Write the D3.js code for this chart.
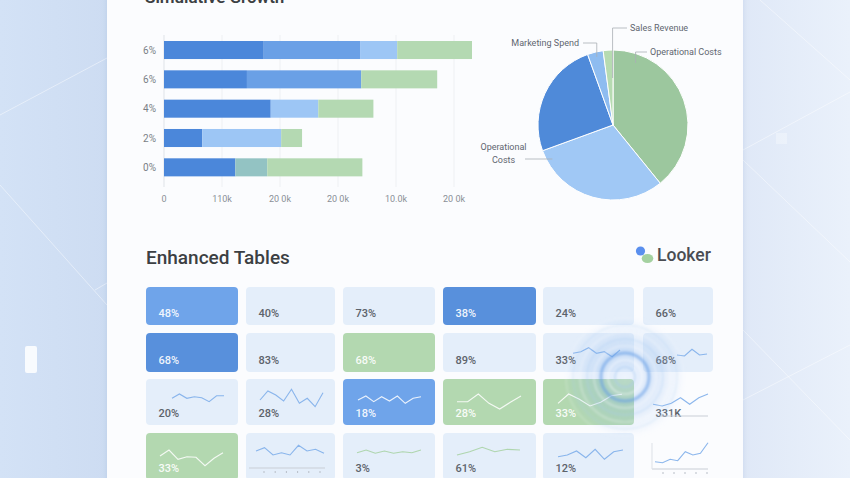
<!DOCTYPE html>
<html><head><meta charset="utf-8">
<script src="https://cdn.jsdelivr.net/npm/d3@7"></script>
<style>html,body{margin:0;padding:0;overflow:hidden;background:#dfe9f7}svg{display:block}text{font-family:Roboto,"Noto Sans",sans-serif}</style>
</head><body><svg id="c" width="850" height="478"></svg>
<script>
// ---------- DATA ----------
const barRows = ["6%","6%","4%","2%","0%"];
const seriesKeys = ["A","B","C","E","D"];
const seriesA = [17.2,14.3,18.4,6.6,12.3];
const seriesB = [16.6,19.7,0,0,0];
const seriesC = [6.4,0,8.2,13.6,0];
const seriesE = [0,0,0,0,5.5];
const seriesD = [12.9,13.1,9.5,3.6,16.4];
const xTickValues = [0,10,20,30,40,50];
const xTickLabels = ["0","110k","20 0k","20 0k","10.0k","20 0k"];

const pieLabels = ["Operational Costs","Operational Costs","","Marketing Spend","Sales Revenue"];
const pieValues = [39.2,30.3,25.1,3.4,2.1];

const tableLabels = [
 ["48%","40%","73%","38%","24%","66%"],
 ["68%","83%","68%","89%","33%","68%"],
 ["20%","28%","18%","28%","33%","331K"],
 ["33%","","3%","61%","12%",""]
];
const tableTones = [
 ["blue","pale","pale","deep","pale","pale"],
 ["deep","pale","green","pale","pale","pale"],
 ["pale","pale","blue","green","green","none"],
 ["green","pale","pale","pale","pale","none"]
];
const sparkValues = [
 [null,null,null,null,null,null],
 [null,null,null,null,[7.7,9.3,13.3,7.7,9.3,4.3,11],[6,5,11.7,6,7]],
 [[14.7,19,14.7,16.3,15.3,11.3,17.3,17.3],[13,22,18,12,23.7,9.7,14.7,6.3,20.3],[13,17,11.3,16.3,12,17,9.7,14.7,16.3],[11.3,11.3,19,9.7,4,10.7,17],[9.7,19,13.7,7,10.7,17.3,18.7],[8.7,7,9.7,15.3,8.7,15.3,19]],
 [[11,17,7.7,10.3,9.7,1.3,8.7,14.3],[16,19.3,12,14.3,12,21.7,16,17.7,13.7],[14.3,17,13.7,16,13.7,15.3,14.3,17],[12,15.3,19.7,15.3,17.7,17],[10.3,12,16,9.3,17.7,7.7,15.3,17],[5.3,4.3,7.7,6.3,15.3,12,13.7,24.3]]
];
const sparkTones = [
 [null,null,null,null,null,null],
 [null,null,null,null,"b","b"],
 ["b","b","w","w","w","b"],
 ["w","b","g","g","b","b"]
];

// ---------- LAYOUT ----------
const W=850,H=478;
const svg=d3.select("#c");
const defs=svg.append("defs");
const bg=defs.append("linearGradient").attr("id","bg").attr("x1",0).attr("x2",1).attr("y1",0).attr("y2",0);
bg.append("stop").attr("offset",0).attr("stop-color","#d3e2f6");
bg.append("stop").attr("offset",0.13).attr("stop-color","#cddcf2");
bg.append("stop").attr("offset",0.87).attr("stop-color","#dfe8f7");
bg.append("stop").attr("offset",1).attr("stop-color","#eaf1fb");
svg.append("rect").attr("width",W).attr("height",H).attr("fill","url(#bg)");
const flt=defs.append("filter").attr("id","sh").attr("x","-10%").attr("y","-10%").attr("width","120%").attr("height","120%");
flt.append("feDropShadow").attr("dx",0).attr("dy",0).attr("stdDeviation",3).attr("flood-color","#7e9cc6").attr("flood-opacity",0.25);

// decorative background lines
const deco=svg.append("g").attr("stroke","#ffffff").attr("stroke-opacity",0.45).attr("stroke-width",1);
[[0,115,107,58],[0,185,107,305],[95,290,107,283],[760,0,850,80],[743,150,850,92],[743,160,850,262],[743,330,850,440],[743,400,850,345]]
 .forEach(l=>deco.append("line").attr("x1",l[0]).attr("y1",l[1]).attr("x2",l[2]).attr("y2",l[3]));
svg.append("rect").attr("x",25).attr("y",346).attr("width",12).attr("height",27).attr("rx",2).attr("fill","#ffffff").attr("opacity",0.85);
svg.append("rect").attr("x",776).attr("y",133).attr("width",11).attr("height",11).attr("fill","#ffffff").attr("opacity",0.3);

// card
svg.append("rect").attr("x",107).attr("y",-20).attr("width",636).attr("height",520).attr("fill","#fbfcfe").attr("filter","url(#sh)");

// ---------- BAR CHART ----------
svg.append("text").attr("x",145).attr("y",3).attr("font-size",17).attr("font-weight",600).attr("fill","#3c4043").text("Simulative Growth");

const x=d3.scaleLinear().domain([0,53.1]).range([164,472]);
const y=d3.scaleBand().domain(barRows.map((d,i)=>i)).range([35.35,182]).paddingInner(0.385).paddingOuter(0.1925);
const gBar=svg.append("g");
gBar.selectAll("line.grid").data(xTickValues).join("line").attr("class","grid")
 .attr("x1",d=>x(d)).attr("x2",d=>x(d)).attr("y1",35).attr("y2",187)
 .attr("stroke",(d,i)=>i===0?"#dfe3e8":"#eef0f3").attr("stroke-width",1);
const barData=barRows.map((r,i)=>({i,A:seriesA[i],B:seriesB[i],C:seriesC[i],E:seriesE[i],D:seriesD[i]}));
const stack=d3.stack().keys(seriesKeys)(barData);
const barColor={A:"#4b87da",B:"#6aa0e6",C:"#9dc6f5",E:"#93c3c3",D:"#b4d9b2"};
gBar.selectAll("g.s").data(stack).join("g").attr("class","s").attr("fill",d=>barColor[d.key])
 .selectAll("rect").data(d=>d.filter(s=>s[1]>s[0])).join("rect")
 .attr("x",d=>x(d[0])).attr("width",d=>x(d[1])-x(d[0]))
 .attr("y",d=>y(d.data.i)).attr("height",y.bandwidth());
gBar.selectAll("text.yl").data(barRows).join("text").attr("class","yl")
 .attr("x",156).attr("y",(d,i)=>y(i)+y.bandwidth()/2+3.5).attr("text-anchor","end")
 .attr("font-size",10).attr("fill","#7a7f86").text(d=>d);
gBar.selectAll("text.xl").data(xTickValues).join("text").attr("class","xl")
 .attr("x",d=>x(d)).attr("y",202).attr("text-anchor","middle")
 .attr("font-size",9).attr("fill","#8a8f96").text((d,i)=>xTickLabels[i]);

// ---------- PIE ----------
const cx=613,cy=125,R=75;
const pieColors=["#9cc79e","#a0c8f5","#4f8ad9","#8ebcf0","#b6dbb1"];
const pie=d3.pie().sort(null).value(d=>d)(pieValues);
const arc=d3.arc().innerRadius(0).outerRadius(R);
const gPie=svg.append("g").attr("transform",`translate(${cx},${cy})`);
gPie.selectAll("path").data(pie).join("path").attr("d",arc).attr("fill",(d,i)=>pieColors[i])
 .attr("stroke","#ffffff").attr("stroke-width",1);
function polar(angDeg,r){const a=angDeg*Math.PI/180;return [r*Math.sin(a),-r*Math.cos(a)];}
const pieLabelLayout=[
 {tx:37,ty:[-70],anchor:"start",elbowY:-73,ang:20,r:66},
 {tx:-109.5,ty:[25,38],anchor:"middle",elbowY:34,ang:240,r:70,lines:["Operational","Costs"],direct:true,x0:-88},
 null,
 {tx:-34,ty:[-79],anchor:"end",elbowY:-82,ang:346.6,r:70},
 {tx:17,ty:[-94],anchor:"start",elbowY:-97,ang:359.5,r:47}
];
pieLabelLayout.forEach((L,i)=>{
 if(!L) return;
 const p=polar(L.ang,L.r);
 let pts;
 if(L.direct){pts=[[L.x0,L.elbowY],[p[0],L.elbowY]];}
 else{const tx0=L.anchor==="end"?L.tx+4:L.tx-3;pts=[[tx0,L.elbowY],[p[0],L.elbowY],[p[0],p[1]]];}
 gPie.append("path").attr("d",d3.line()(pts)).attr("fill","none").attr("stroke","#a9aeb5").attr("stroke-width",0.8);
 const lines=L.lines||[pieLabels[i]];
 lines.forEach((t,k)=>gPie.append("text").attr("x",L.tx).attr("y",L.ty[k]).attr("text-anchor",L.anchor)
  .attr("font-size",9).attr("fill","#5f6670").text(t));
});

// ---------- TABLE ----------
svg.append("text").attr("x",146).attr("y",264).attr("font-size",19).attr("font-weight",500).attr("fill","#3c4043").text("Enhanced Tables");
svg.append("circle").attr("cx",640.5).attr("cy",251).attr("r",4.6).attr("fill","#5a8fee");
svg.append("ellipse").attr("cx",647.5).attr("cy",258.5).attr("rx",5.8).attr("ry",4.6).attr("fill","#9fcf9b").attr("opacity",0.95);
svg.append("text").attr("x",657).attr("y",261).attr("font-size",17.5).attr("font-weight",500).attr("fill","#4a4d52").text("Looker");

const colX=[146,246,343,443,543,643], colW=[92,89,92,93,91,70];
const rowY=[287,333,379,433], rowH=[38,39,46,47];
const sparkBase=[0,28,34,34];
const sparkSpan=[
 [null,null,null,null,null,null],
 [null,null,null,null,[30,77],[34,64]],
 [[26,78],[14,77],[15,78],[14,78],[15,79],[10,65]],
 [[14,77],[10,78],[14,78],[14,77],[15,80],[12,65]]
];
const xCol=d3.scaleOrdinal().domain(d3.range(6)).range(colX);
const yRow=d3.scaleOrdinal().domain(d3.range(4)).range(rowY);
const toneFill={pale:"#e4eefa",blue:"#6fa4ea",deep:"#5890dc",green:"#b3d8b0"};
const toneText={pale:"#5d636b",blue:"#ffffff",deep:"#ffffff",green:"#ffffff",none:"#5d636b"};
const sparkColor={b:"#7eaeea",g:"#a8d3a5",w:"#ffffff"};
const cells=[];
tableLabels.forEach((row,r)=>row.forEach((lab,c)=>cells.push({r,c,lab,tone:tableTones[r][c],spark:sparkValues[r][c],st:sparkTones[r][c],span:sparkSpan[r][c]})));
const gT=svg.append("g");
const cellG=gT.selectAll("g.cell").data(cells).join("g").attr("class","cell")
 .attr("transform",d=>`translate(${xCol(d.c)},${yRow(d.r)})`);
cellG.filter(d=>d.tone!=="none").append("rect").attr("width",d=>colW[d.c]).attr("height",d=>rowH[d.r]).attr("rx",4)
 .attr("fill",d=>toneFill[d.tone]);
cellG.filter(d=>d.spark).append("path").attr("fill","none").attr("stroke-width",1.1)
 .attr("stroke",d=>sparkColor[d.st]).attr("stroke-opacity",d=>d.st==="w"?0.85:0.9)
 .attr("d",d=>{
   const sx=d3.scaleLinear().domain([0,d.spark.length-1]).range(d.span);
   const sy=d3.scaleLinear().domain([0,1]).range([sparkBase[d.r],sparkBase[d.r]-1]);
   return d3.line().x((v,k)=>sx(k)).y(v=>sy(v))(d.spark);
 });
cellG.append("text").attr("x",12.5).attr("y",d=>rowH[d.r]-8).attr("font-size",11).attr("font-weight",500)
 .attr("fill",d=>toneText[d.tone]).attr("fill-opacity",d=>d.tone==="pale"||d.tone==="none"?1:0.92).text(d=>d.lab);

const axisCells=[
 {r:2,c:5,y:37,x0:17,x1:65,ticks:0,vert:false},
 {r:3,c:1,y:35,x0:3,x1:79,ticks:6,t0:18,t1:74,vert:false},
 {r:3,c:5,y:36,x0:9,x1:65,ticks:5,t0:20,t1:64,vert:true}
];
axisCells.forEach(a=>{
 const g=gT.append("g").attr("transform",`translate(${xCol(a.c)},${yRow(a.r)})`);
 g.append("line").attr("x1",a.x0).attr("x2",a.x1).attr("y1",a.y).attr("y2",a.y).attr("stroke","#c9ced6").attr("stroke-width",1);
 if(a.vert) g.append("line").attr("x1",a.x0).attr("x2",a.x0).attr("y1",10).attr("y2",a.y).attr("stroke","#dde1e7").attr("stroke-width",1);
 if(a.ticks){const tp=d3.scalePoint().domain(d3.range(a.ticks)).range([a.t0,a.t1]);
  g.selectAll("line.t").data(d3.range(a.ticks)).join("line").attr("class","t")
   .attr("x1",k=>tp(k)).attr("x2",k=>tp(k)).attr("y1",a.y+3).attr("y2",a.y+5).attr("stroke","#b8bec7").attr("stroke-width",1);}
});

// ring decoration (soft glow)
const rg=defs.append("radialGradient").attr("id","rg");
rg.append("stop").attr("offset",0).attr("stop-color","#cfe2fb").attr("stop-opacity",0.3);
rg.append("stop").attr("offset",0.45).attr("stop-color","#8fbaf0").attr("stop-opacity",0.28);
rg.append("stop").attr("offset",1).attr("stop-color","#8fbaf0").attr("stop-opacity",0);
const blur=defs.append("filter").attr("id","bl").attr("x","-50%").attr("y","-50%").attr("width","200%").attr("height","200%");
blur.append("feGaussianBlur").attr("stdDeviation",0.8);
const ring=svg.append("g").attr("transform","translate(625,377)").attr("filter","url(#bl)");
ring.append("circle").attr("r",62).attr("fill","url(#rg)");
[10,17,24,31,38,45,52,59].forEach((r,i)=>ring.append("circle").attr("r",r).attr("fill","none")
 .attr("stroke",i===2?"#5e9ae6":(i%2?"#ffffff":"#a8c9f2")).attr("stroke-width",i===2?3.5:1.6)
 .attr("stroke-opacity",i===2?0.5:0.5-i*0.045));
</script></body></html>
